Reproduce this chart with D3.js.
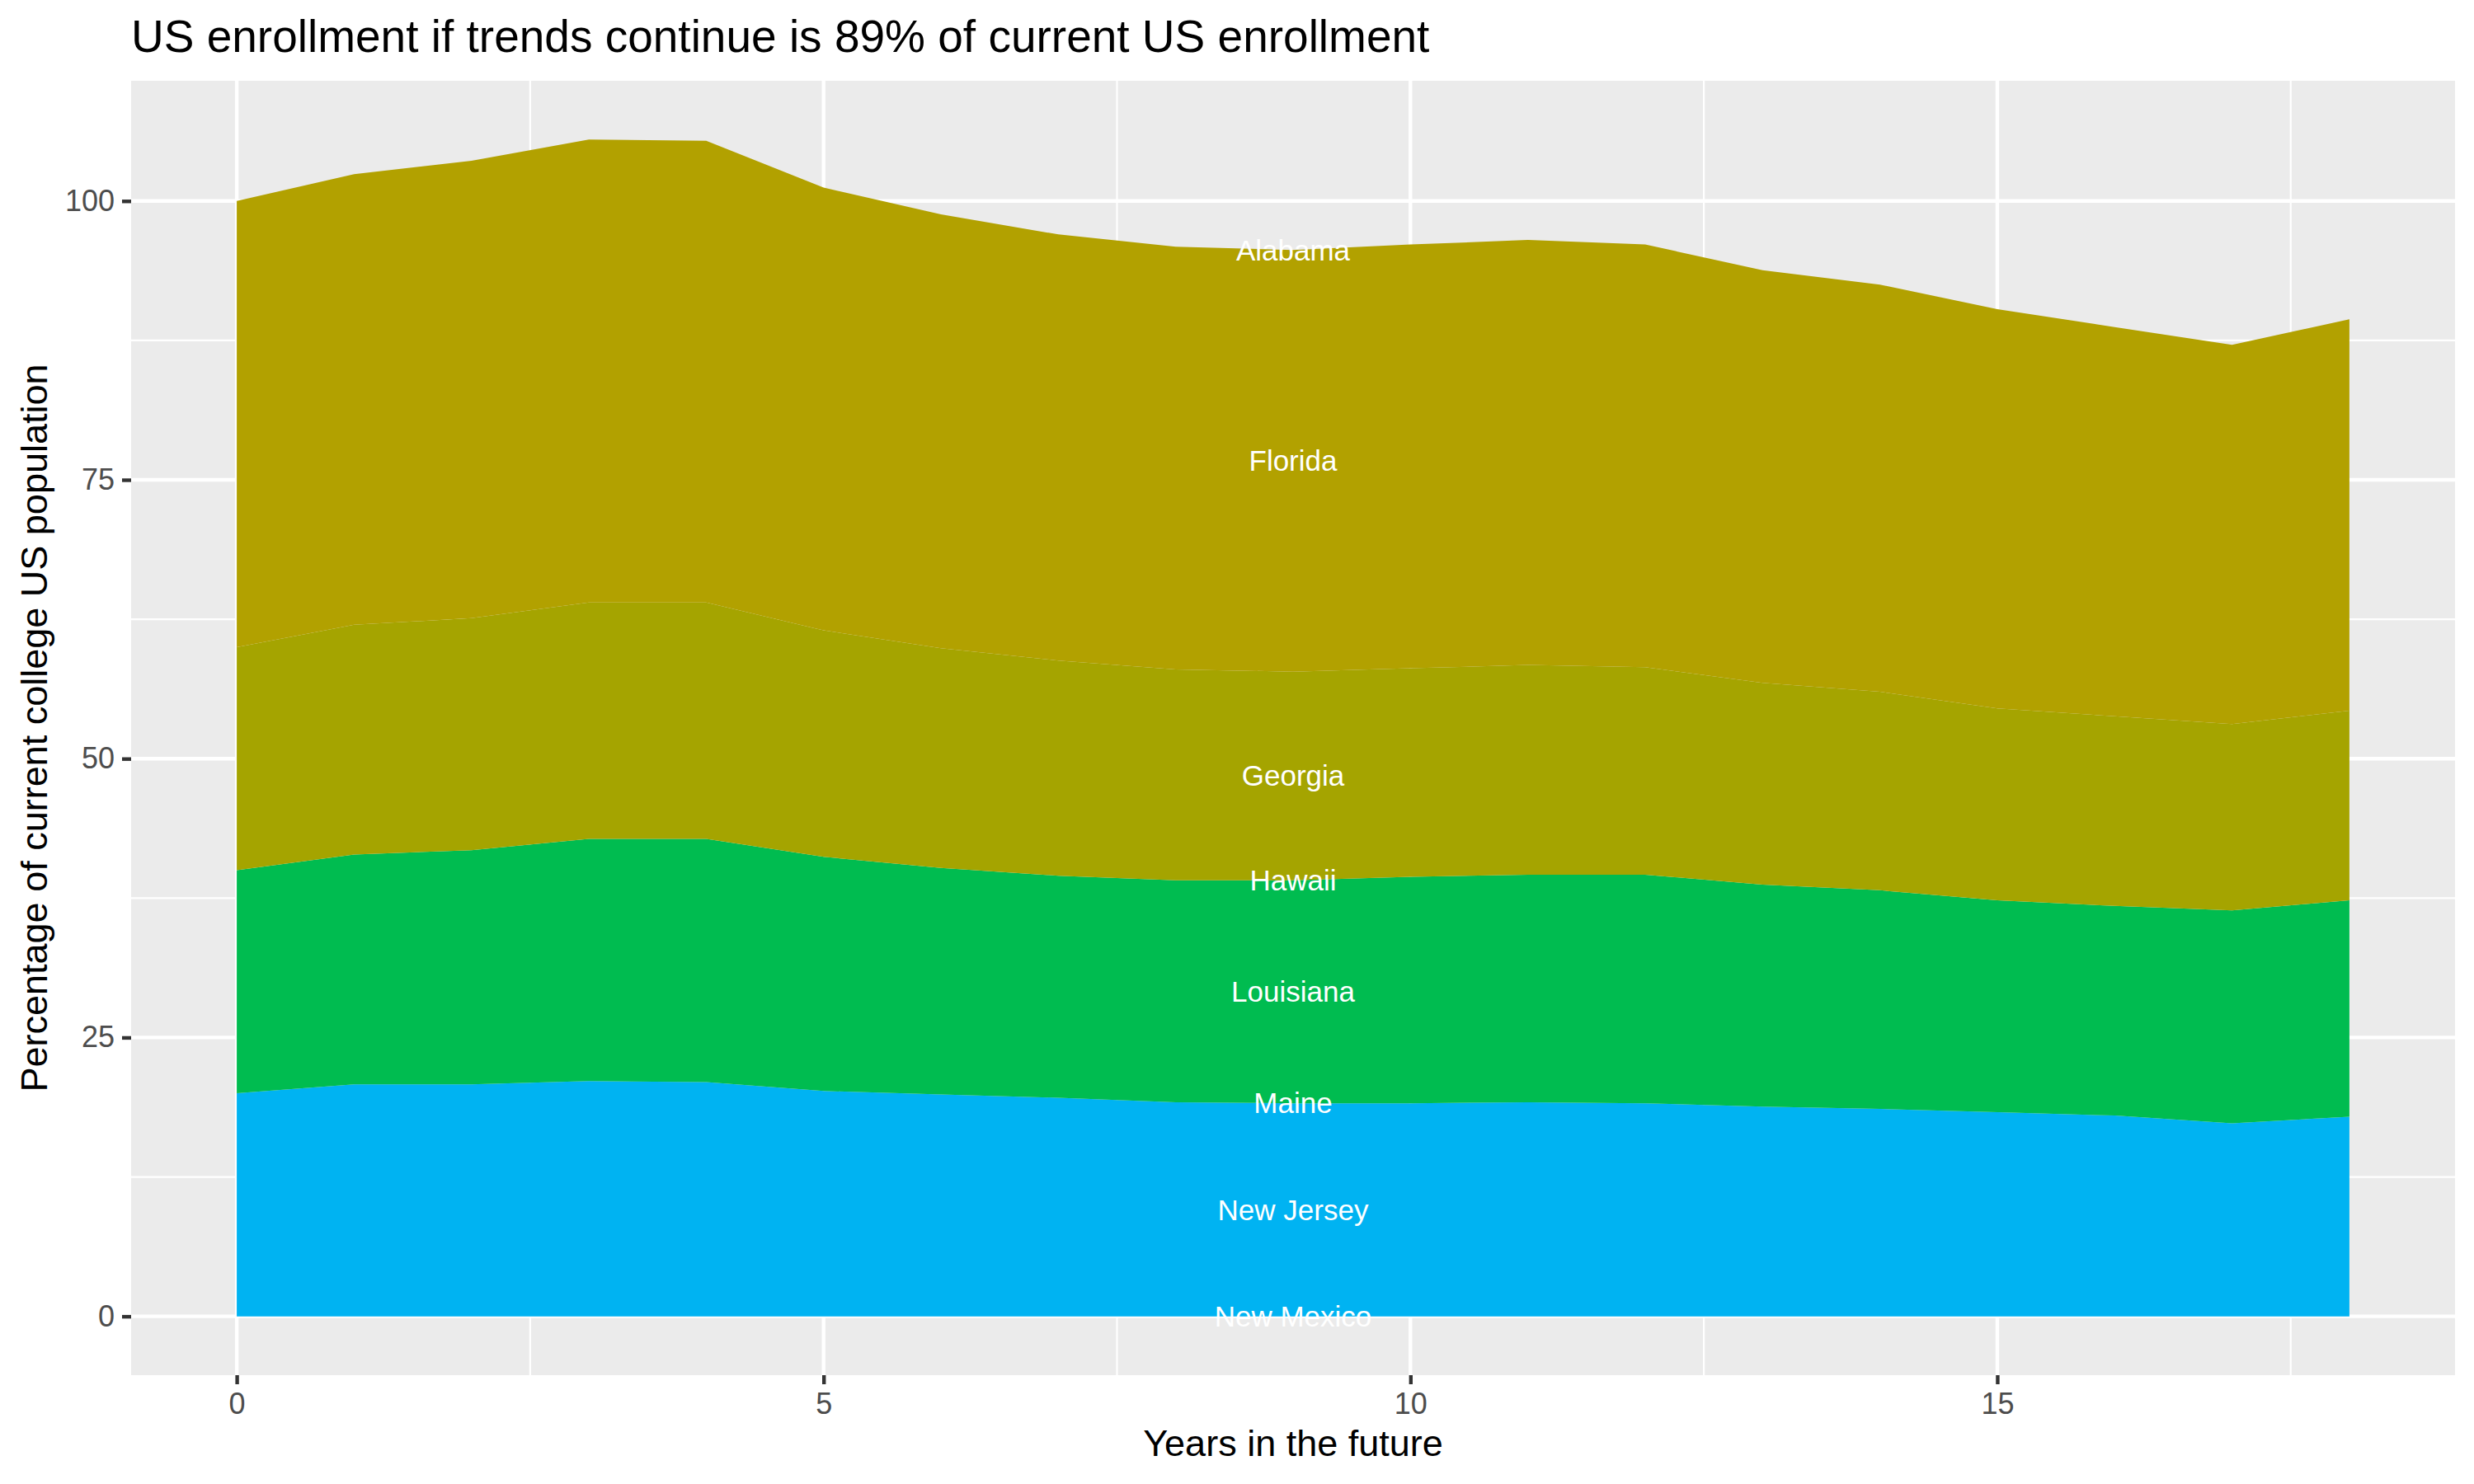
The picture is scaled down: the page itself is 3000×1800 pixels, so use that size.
<!DOCTYPE html>
<html>
<head>
<meta charset="utf-8">
<script src="https://cdn.jsdelivr.net/npm/d3@7"></script>
<style>
  body { margin: 0; background: #ffffff; }
  text { font-family: "Liberation Sans", Arial, Helvetica, sans-serif; }
</style>
</head>
<body>
<svg id="chart" width="3000" height="1800"></svg>
<script>
// values, % of current US college population
const years = [0, 1, 2, 3, 4, 5, 6, 7, 8, 9, 10, 11, 12, 13, 14, 15, 16, 17, 18]
const states = ['Alabama', 'Florida', 'Georgia', 'Hawaii', 'Louisiana', 'Maine', 'New Jersey', 'New Mexico']

const alabama   = [0, 0, 0, 0, 0, 0, 0, 0, 0, 0, 0, 0, 0, 0, 0, 0, 0, 0, 0]
const florida   = [40.0, 40.4, 41.0, 41.5, 41.4, 39.7, 38.9, 38.2, 37.9, 37.8, 38.0, 38.1, 37.9, 37.0, 36.5, 35.8, 34.9, 34.0, 35.1]
const georgia   = [20.0, 20.6, 20.8, 21.2, 21.2, 20.3, 19.7, 19.3, 18.9, 18.7, 18.7, 18.8, 18.6, 18.1, 17.8, 17.2, 17.0, 16.7, 17.0]
const hawaii    = [0, 0, 0, 0, 0, 0, 0, 0, 0, 0, 0, 0, 0, 0, 0, 0, 0, 0, 0]
const louisiana = [20.0, 20.6, 21.0, 21.7, 21.8, 21.0, 20.3, 19.9, 19.9, 20.0, 20.3, 20.4, 20.5, 19.9, 19.6, 19.0, 18.8, 19.1, 19.4]
const maine     = [0, 0, 0, 0, 0, 0, 0, 0, 0, 0, 0, 0, 0, 0, 0, 0, 0, 0, 0]
const newJersey = [20.0, 20.8, 20.8, 21.1, 21.0, 20.2, 19.9, 19.6, 19.2, 19.1, 19.1, 19.2, 19.1, 18.8, 18.6, 18.3, 18.0, 17.3, 17.9]
const newMexico = [0, 0, 0, 0, 0, 0, 0, 0, 0, 0, 0, 0, 0, 0, 0, 0, 0, 0, 0]

const xTicks = [0, 5, 10, 15]
const yTicks = [0, 25, 50, 75, 100]
const labelYear = 9

const titleText = 'US enrollment if trends continue is 89% of current US enrollment'
const xTitle = 'Years in the future'
const yTitle = 'Percentage of current college US population'

const colors = {
    'Alabama': '#F8766D', 'Florida': '#B2A100', 'Georgia': '#A5A400', 'Hawaii': '#9DA700',
    'Louisiana': '#00BC50', 'Maine': '#00BD66', 'New Jersey': '#00B3F2', 'New Mexico': '#00AEF9'
}

const seriesByState = {
    'Alabama': alabama, 'Florida': florida, 'Georgia': georgia, 'Hawaii': hawaii,
    'Louisiana': louisiana, 'Maine': maine, 'New Jersey': newJersey, 'New Mexico': newMexico
}

// one row per year
const table = years.map((yr, i) => {
    const row = { year: yr }
    states.forEach(s => row[s] = seriesByState[s][i])
    return row
})

const panel = { left: 159, right: 2977, top: 98, bottom: 1668 }

// first state sits on top, like ggplot's stacking
const stack = d3.stack().keys(states.slice().reverse())
const layers = stack(table)

const yMax = d3.max(layers[layers.length - 1], d => d[1])
const xPad = (d3.max(years) - d3.min(years)) * 0.05
const yPad = yMax * 0.05

const xScale = d3.scaleLinear()
    .domain([d3.min(years) - xPad, d3.max(years) + xPad])
    .range([panel.left, panel.right])
const yScale = d3.scaleLinear()
    .domain([-yPad, yMax + yPad])
    .range([panel.bottom, panel.top])

const svg = d3.select('#chart')

svg.append('rect').attr('width', 3000).attr('height', 1800).style('fill', '#ffffff')
svg.append('rect')
    .attr('x', panel.left).attr('y', panel.top)
    .attr('width', panel.right - panel.left).attr('height', panel.bottom - panel.top)
    .style('fill', '#EBEBEB')

// grid
const xMinor = xTicks.map(t => t + 2.5).filter(t => t < xScale.domain()[1])
const yMinor = yTicks.slice(0, -1).map(t => t + 12.5)
const grid = svg.append('g')
grid.selectAll('.xminor').data(xMinor).enter().append('line')
    .attr('x1', d => xScale(d)).attr('x2', d => xScale(d)).attr('y1', panel.top).attr('y2', panel.bottom)
    .style('stroke', '#ffffff').style('stroke-width', 2.2)
grid.selectAll('.yminor').data(yMinor).enter().append('line')
    .attr('y1', d => yScale(d)).attr('y2', d => yScale(d)).attr('x1', panel.left).attr('x2', panel.right)
    .style('stroke', '#ffffff').style('stroke-width', 2.2)
grid.selectAll('.xmajor').data(xTicks).enter().append('line')
    .attr('x1', d => xScale(d)).attr('x2', d => xScale(d)).attr('y1', panel.top).attr('y2', panel.bottom)
    .style('stroke', '#ffffff').style('stroke-width', 4.4)
grid.selectAll('.ymajor').data(yTicks).enter().append('line')
    .attr('y1', d => yScale(d)).attr('y2', d => yScale(d)).attr('x1', panel.left).attr('x2', panel.right)
    .style('stroke', '#ffffff').style('stroke-width', 4.4)

// stacked areas
const area = d3.area()
    .x(d => xScale(d.data.year))
    .y0(d => yScale(d[0]))
    .y1(d => yScale(d[1]))

svg.append('g').selectAll('path').data(layers).enter().append('path')
    .attr('d', area)
    .style('fill', d => colors[d.key])

// state labels in the middle of each band
const li = years.indexOf(labelYear)
svg.append('g').selectAll('text').data(layers).enter().append('text')
    .attr('x', xScale(labelYear))
    .attr('y', d => yScale((d[li][0] + d[li][1]) / 2))
    .attr('dy', '0.35em')
    .attr('text-anchor', 'middle')
    .style('font-size', '35px')
    .style('fill', '#ffffff')
    .text(d => d.key)

// axes
const xAxis = svg.append('g').attr('transform', `translate(0,${panel.bottom})`)
    .call(d3.axisBottom(xScale).tickValues(xTicks).tickSize(11).tickPadding(9).tickFormat(d3.format('d')))
const yAxis = svg.append('g').attr('transform', `translate(${panel.left},0)`)
    .call(d3.axisLeft(yScale).tickValues(yTicks).tickSize(11).tickPadding(9).tickFormat(d3.format('d')))

;[xAxis, yAxis].forEach(ax => {
    ax.select('.domain').remove()
    ax.selectAll('.tick line').style('stroke', '#333333').style('stroke-width', 4.4)
    ax.selectAll('.tick text')
        .style('font-size', '36px').style('fill', '#4D4D4D')
        .style('font-family', '"Liberation Sans", Arial, Helvetica, sans-serif')
})
xAxis.selectAll('.tick text').attr('dy', '0.75em')

// titles
svg.append('text')
    .attr('x', panel.left).attr('y', 63)
    .style('font-size', '55px').style('fill', '#000000')
    .text(titleText)

svg.append('text')
    .attr('x', (panel.left + panel.right) / 2).attr('y', 1766)
    .attr('text-anchor', 'middle')
    .style('font-size', '45px').style('fill', '#000000')
    .text(xTitle)

svg.append('text')
    .attr('transform', `translate(57,${(panel.top + panel.bottom) / 2}) rotate(-90)`)
    .attr('text-anchor', 'middle')
    .style('font-size', '45px').style('fill', '#000000')
    .text(yTitle)
</script>
</body>
</html>
